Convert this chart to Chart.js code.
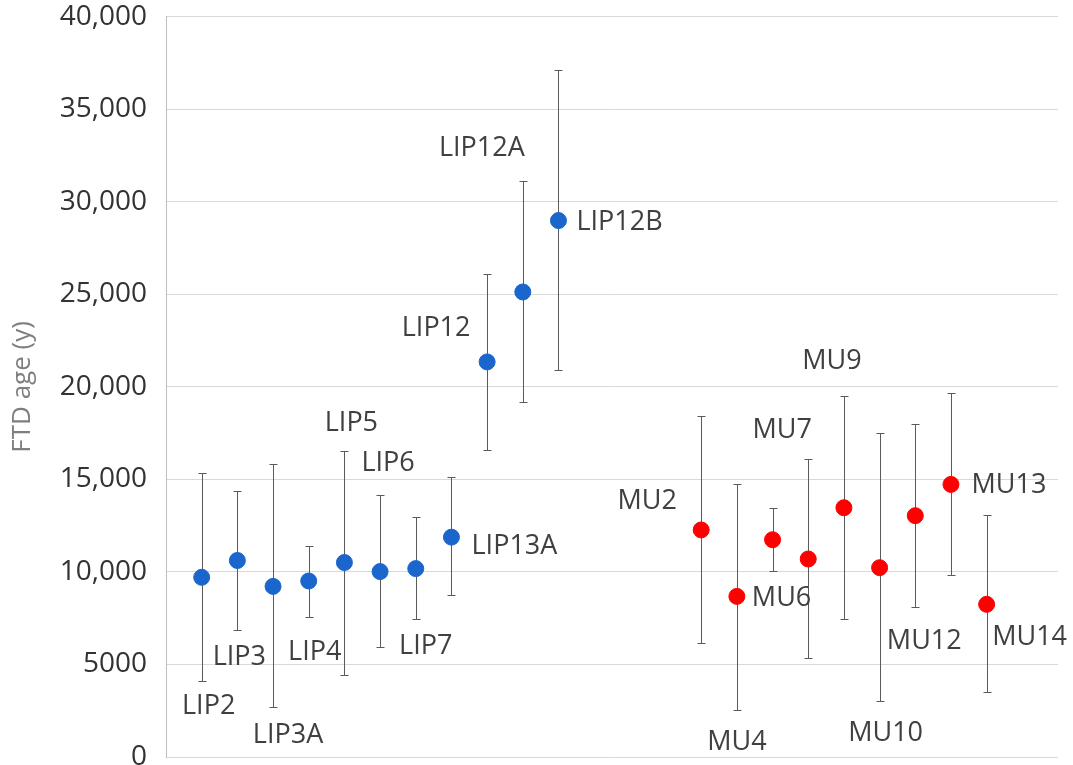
<!DOCTYPE html>
<html lang="en">
<head>
    <meta charset="UTF-8">
    <title>FTD age</title>
    <script src="https://cdn.jsdelivr.net/npm/chart.js"></script>
    <style>
        html, body {
            margin: 0;
            padding: 0;
            background: #ffffff;
            overflow: hidden;
        }

        .chart-box {
            position: relative;
            width: 1073px;
            height: 790px; /* taller than the window so the "0" tick is clipped like the original */
        }
    </style>
</head>
<body>

<div class="chart-box">
    <canvas id="ftdChart"></canvas>
</div>

<script>
    // LIP samples
    const lipNames = ['LIP2', 'LIP3', 'LIP3A', 'LIP4', 'LIP5', 'LIP6', 'LIP7', 'LIP13A', 'LIP12', 'LIP12A', 'LIP12B'];
    const lipSlots = [1, 2, 3, 4, 5, 6, 7, 8, 9, 10, 11];
    const lipAge   = [9710, 10620, 9220, 9510, 10510, 10020, 10180, 11880, 21350, 25130, 28990];
    const lipHigh  = [15340, 14370, 15810, 11410, 16550, 14150, 12960, 15130, 26090, 31140, 37100];
    const lipLow   = [4100, 6880, 2690, 7580, 4430, 5940, 7440, 8740, 16570, 19170, 20890];

    // MU samples
    const muNames = ['MU2', 'MU4', 'MU6', 'MU7', 'MU9', 'MU10', 'MU12', 'MU13', 'MU14'];
    const muSlots = [15, 16, 17, 18, 19, 20, 21, 22, 23];
    const muAge   = [12270, 8680, 11740, 10700, 13470, 10230, 13040, 14730, 8250];
    const muHigh  = [18410, 14750, 13430, 16120, 19490, 17530, 17970, 19670, 13060];
    const muLow   = [6140, 2560, 10050, 5370, 7460, 3030, 8110, 9810, 3490];

    const yTicks = [0, 5000, 10000, 15000, 20000, 25000, 30000, 35000, 40000];

    // where each label sits relative to its point (pixels), as placed by hand in the original
    const lipLabelShift = [[7, 129], [2, 97], [15, 149], [6, 71], [7, -139], [8, -108], [10, 78], [63, 9], [-51, -34], [-41, -144], [61, 2]];
    const muLabelShift  = [[-54, -29], [0, 146], [9, 59], [-26, -129], [-12, -146], [6, 166], [9, 126], [58, 1], [43, 33]];

    const toPoints = (slots, ys) => slots.map((x, i) => ({ x: x, y: ys[i] }));

    const errorBars = {
        id: 'errorBars',
        beforeDatasetsDraw(chart) {
            const { ctx, scales: { x, y } } = chart;
            const groups = [[lipSlots, lipLow, lipHigh], [muSlots, muLow, muHigh]];
            ctx.save();
            ctx.strokeStyle = '#5a5a5a';
            ctx.lineWidth = 1;
            groups.forEach(([slots, lo, hi]) => {
                slots.forEach((s, i) => {
                    const px = Math.round(x.getPixelForValue(s)) + 0.5;
                    const yHi = Math.round(y.getPixelForValue(hi[i])) + 0.5;
                    const yLo = Math.round(y.getPixelForValue(lo[i])) + 0.5;
                    ctx.beginPath();
                    ctx.moveTo(px, yHi);
                    ctx.lineTo(px, yLo);
                    ctx.moveTo(px - 4, yHi);
                    ctx.lineTo(px + 4, yHi);
                    ctx.moveTo(px - 4, yLo);
                    ctx.lineTo(px + 4, yLo);
                    ctx.stroke();
                });
            });
            ctx.restore();
        }
    };

    const pointLabels = {
        id: 'pointLabels',
        afterDatasetsDraw(chart) {
            const { ctx } = chart;
            const shifts = [lipLabelShift, muLabelShift];
            const names = [lipNames, muNames];
            ctx.save();
            ctx.font = '27px "Open Sans"';
            ctx.fillStyle = '#404040';
            ctx.textAlign = 'center';
            ctx.textBaseline = 'middle';
            chart.data.datasets.forEach((ds, d) => {
                chart.getDatasetMeta(d).data.forEach((pt, i) => {
                    ctx.fillText(names[d][i], pt.x + shifts[d][i][0], pt.y + shifts[d][i][1]);
                });
            });
            ctx.restore();
        }
    };

    const ctx = document.getElementById('ftdChart').getContext('2d');
    new Chart(ctx, {
        type: 'scatter',
        data: {
            datasets: [
                {
                    label: 'LIP',
                    data: toPoints(lipSlots, lipAge),
                    backgroundColor: '#1a66cc',
                    borderColor: '#1a66cc',
                    pointRadius: 8,
                    pointHoverRadius: 8
                },
                {
                    label: 'MU',
                    data: toPoints(muSlots, muAge),
                    backgroundColor: '#ff0000',
                    borderColor: '#ff0000',
                    pointRadius: 8,
                    pointHoverRadius: 8
                }
            ]
        },
        options: {
            responsive: true,
            maintainAspectRatio: false,
            animation: false,
            layout: {
                padding: { left: 0, right: 15, top: 0, bottom: 33 }
            },
            plugins: {
                legend: { display: false },
                tooltip: { enabled: false }
            },
            scales: {
                x: {
                    type: 'linear',
                    min: 0,
                    max: 25,
                    display: false
                },
                y: {
                    min: 0,
                    max: 40000,
                    afterBuildTicks: (scale) => {
                        scale.ticks = yTicks.map(v => ({ value: v }));
                    },
                    afterFit: (scale) => {
                        scale.width = 166;
                    },
                    ticks: {
                        padding: 0,
                        color: '#333333',
                        font: { family: 'Open Sans', size: 28 },
                        callback: (v) => v >= 10000 ? v.toLocaleString('en-US') : String(v)
                    },
                    grid: {
                        color: '#d9d9d9',
                        drawTicks: true,
                        tickLength: 19,
                        tickColor: 'rgba(0,0,0,0)'
                    },
                    border: {
                        color: '#bfbfbf'
                    },
                    title: {
                        display: true,
                        text: 'FTD age (y)',
                        color: '#7f7f7f',
                        font: { family: 'Open Sans', size: 26 },
                        padding: { top: 7, bottom: 0 }
                    }
                }
            }
        },
        plugins: [errorBars, pointLabels]
    });
</script>
</body>
</html>
